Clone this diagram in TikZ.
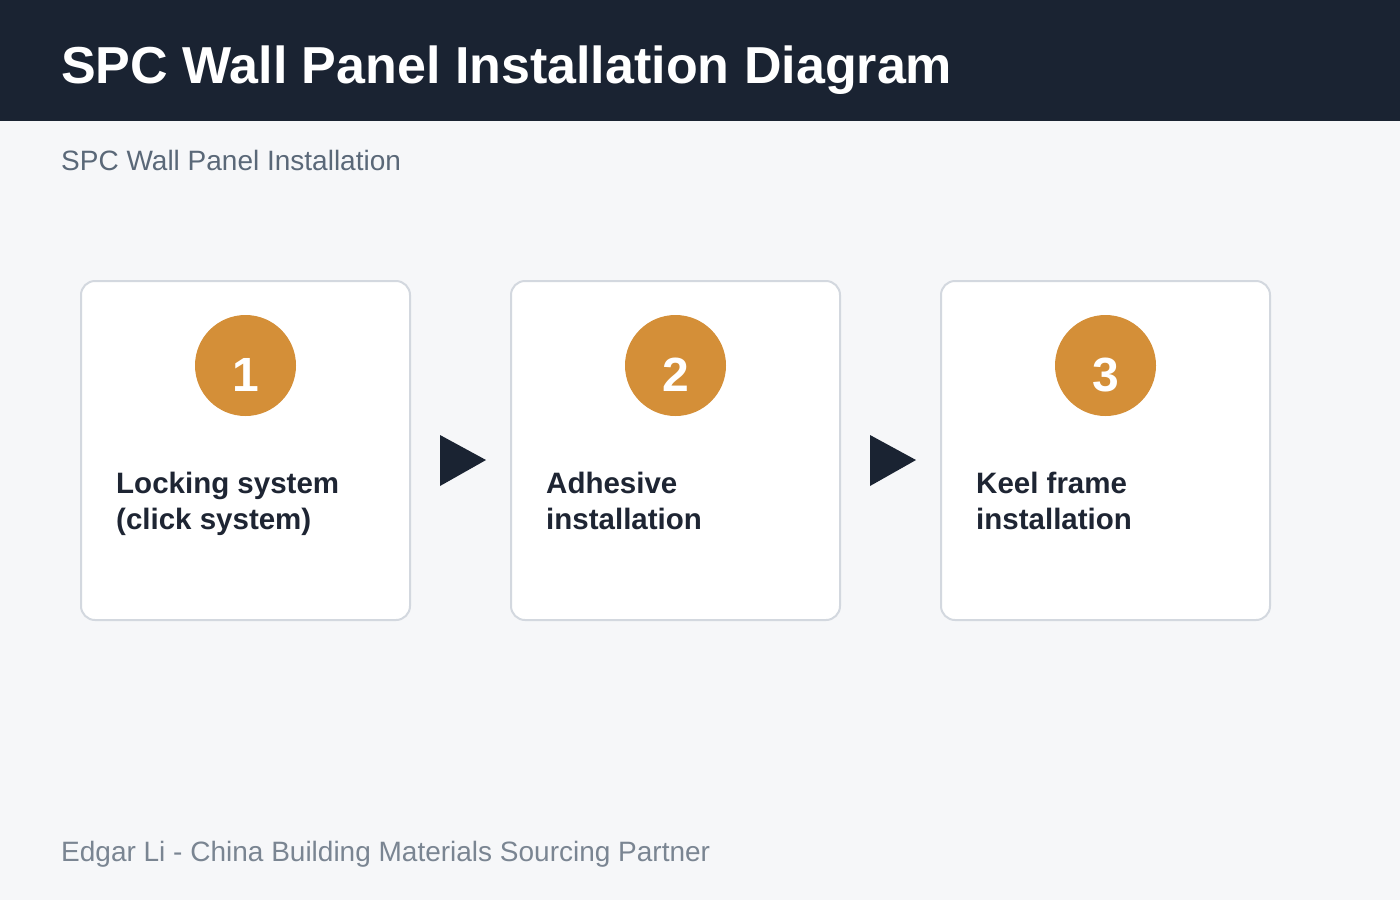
\documentclass[tikz,border=0pt]{standalone}
\usepackage{fontspec}
\setmainfont{Liberation Sans}
\definecolor{hdr}{HTML}{1A2332}
\definecolor{bg}{HTML}{F6F7F9}
\definecolor{brd}{HTML}{D3D8DF}
\definecolor{org}{HTML}{D48F38}
\definecolor{sub}{HTML}{5A6878}
\definecolor{foot}{HTML}{7A8592}
\definecolor{txt}{HTML}{1E2533}
\tikzset{
  card/.style={draw=brd, line width=2pt, fill=white, rounded corners=14pt},
  badge/.style={circle, fill=org, minimum size=101pt, inner sep=0pt},
  badgenum/.style={anchor=base, inner sep=0pt, text=white, font=\fontsize{48}{48}\selectfont\bfseries},
  steptext/.style={anchor=base west, align=left, text=txt, inner sep=0pt, font=\fontsize{29.5}{36}\selectfont\bfseries},
  arrowtri/.style={fill=hdr, draw=none}
}
\begin{document}
\begin{tikzpicture}[x=1pt,y=-1pt]
\useasboundingbox (0,0) rectangle (1400,900);
\fill[bg] (0,0) rectangle (1400,900);
\fill[hdr] (0,0) rectangle (1400,121);
\node[anchor=base west, inner sep=0pt, text=white, font=\fontsize{52}{52}\selectfont\bfseries] (title) at (61,83) {SPC Wall Panel Installation Diagram};
\node[anchor=base west, inner sep=0pt, text=sub, font=\fontsize{28}{28}\selectfont] (subtitle) at (61,170) {SPC Wall Panel Installation};
% cards
\draw[card] (81,281) rectangle (410,620);
\draw[card] (511,281) rectangle (840,620);
\draw[card] (941,281) rectangle (1270,620);
\node[badge] (b1) at (245.5,365.5) {};
\node[badge] (b2) at (675.5,365.5) {};
\node[badge] (b3) at (1105.5,365.5) {};
\node[badgenum] (n1) at (245.5,391) {1};
\node[badgenum] (n2) at (675.5,391) {2};
\node[badgenum] (n3) at (1105.5,391) {3};
\node[steptext] (t1) at (116,529) {Locking system\\(click system)};
\node[steptext] (t2) at (546,529) {Adhesive\\installation};
\node[steptext] (t3) at (976,529) {Keel frame\\installation};
% arrows
\coordinate (a1a) at (440,435); \coordinate (a1b) at (486,460); \coordinate (a1c) at (440,486);
\fill[arrowtri] (a1a) -- (a1b) -- (a1c) -- cycle;
\coordinate (a2a) at (870,435); \coordinate (a2b) at (916,460); \coordinate (a2c) at (870,486);
\fill[arrowtri] (a2a) -- (a2b) -- (a2c) -- cycle;
\node[anchor=base west, inner sep=0pt, text=foot, font=\fontsize{28}{28}\selectfont] (footer) at (61,861) {Edgar Li - China Building Materials Sourcing Partner};
\end{tikzpicture}
\end{document}
